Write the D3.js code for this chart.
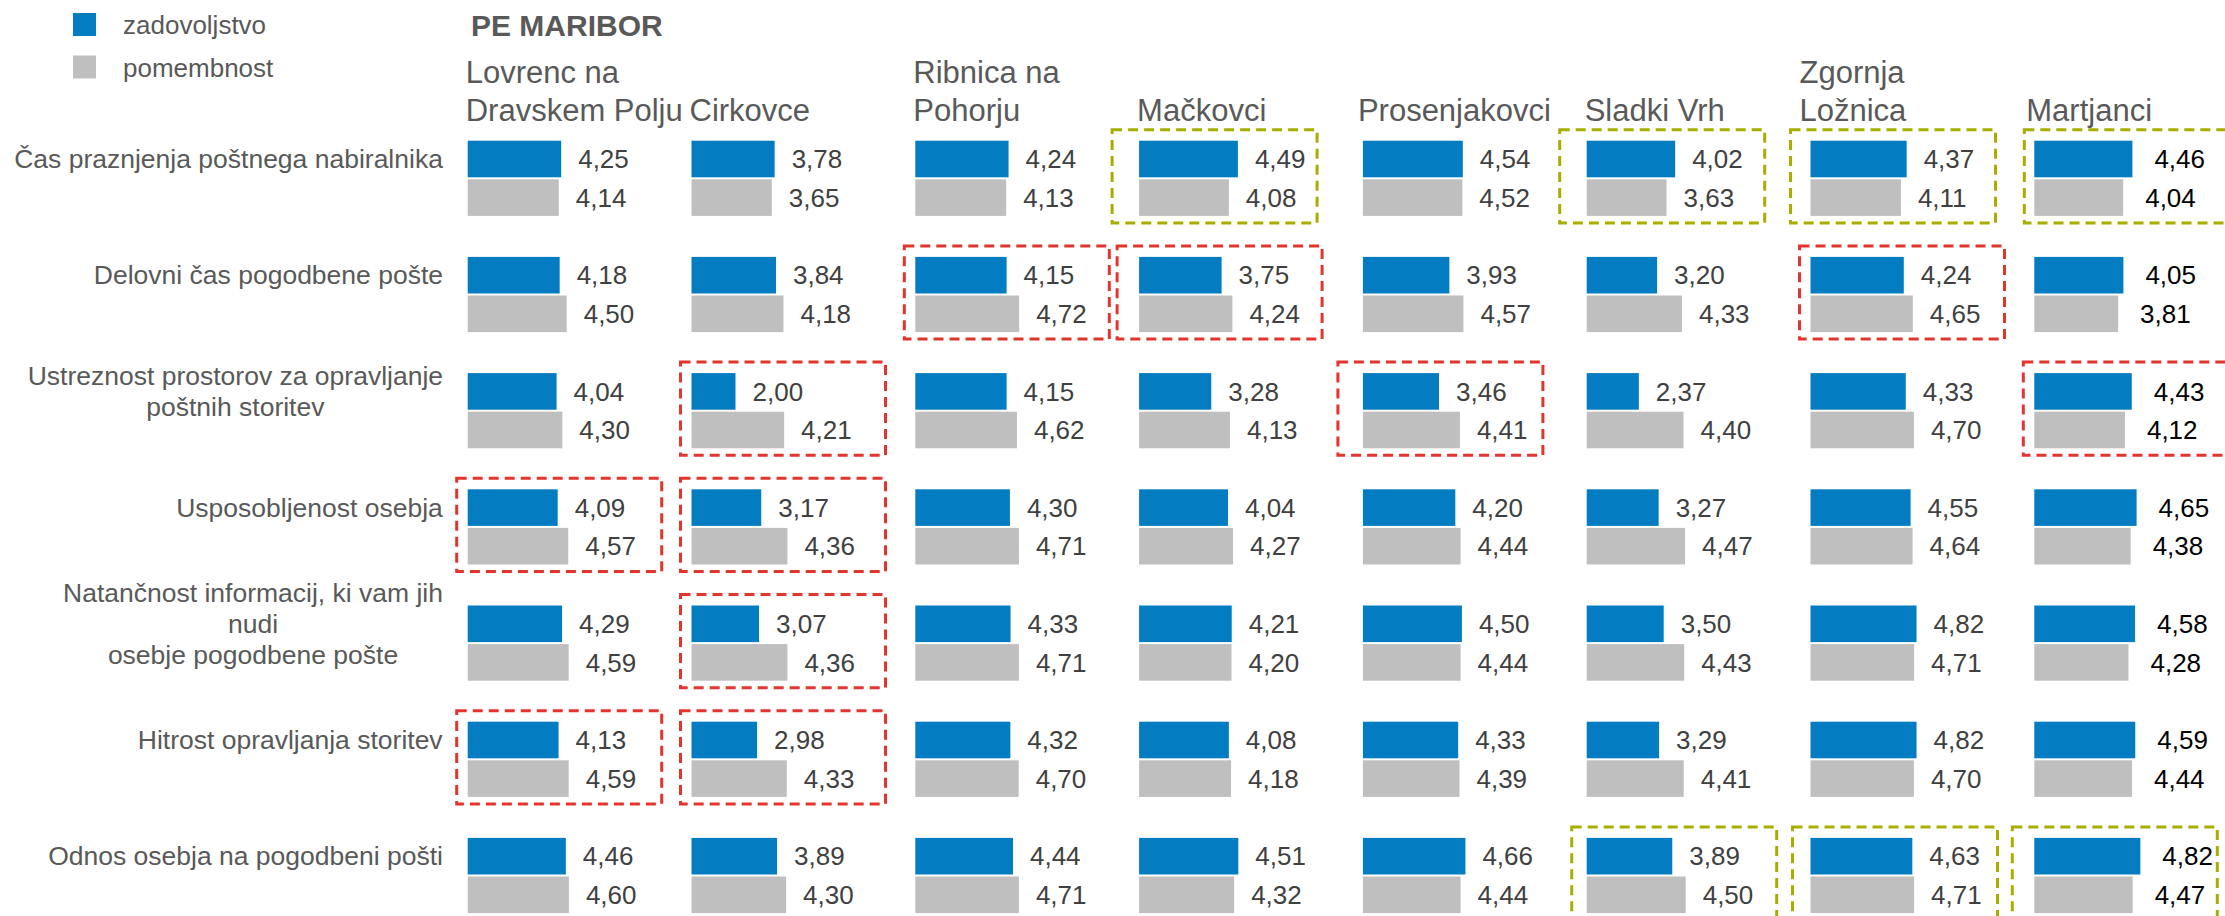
<!DOCTYPE html>
<html lang="sl">
<head>
<meta charset="utf-8"/>
<title>PE MARIBOR</title>
<script src="https://d3js.org/d3.v7.min.js"></script>
<style>
  body { margin: 0; padding: 0; background: #fff; width: 2225px; height: 916px; overflow: hidden; }
  svg text { font-family: "Liberation Sans", Arial, sans-serif; }
</style>
</head>
<body>
<div id="chart"></div>
<script>
// pošte (stolpci)
const locations = ["Lovrenc na\nDravskem Polju", "Cirkovce", "Ribnica na\nPohorju", "Mačkovci",
  "Prosenjakovci", "Sladki Vrh", "Zgornja\nLožnica", "Martjanci"];

// kriteriji (vrstice)
const criteria = ["Čas praznjenja poštnega nabiralnika", "Delovni čas pogodbene pošte",
  "Ustreznost prostorov za opravljanje\npoštnih storitev", "Usposobljenost osebja",
  "Natančnost informacij, ki vam jih\nnudi\nosebje pogodbene pošte",
  "Hitrost opravljanja storitev", "Odnos osebja na pogodbeni pošti"];

const seriesNames = ["zadovoljstvo", "pomembnost"];

// zadovoljstvo: vrstica = kriterij, stolpec = pošta
const satisfaction = [
  [4.25, 3.78, 4.24, 4.49, 4.54, 4.02, 4.37, 4.46],
  [4.18, 3.84, 4.15, 3.75, 3.93, 3.20, 4.24, 4.05],
  [4.04, 2.00, 4.15, 3.28, 3.46, 2.37, 4.33, 4.43],
  [4.09, 3.17, 4.30, 4.04, 4.20, 3.27, 4.55, 4.65],
  [4.29, 3.07, 4.33, 4.21, 4.50, 3.50, 4.82, 4.58],
  [4.13, 2.98, 4.32, 4.08, 4.33, 3.29, 4.82, 4.59],
  [4.46, 3.89, 4.44, 4.51, 4.66, 3.89, 4.63, 4.82]
];

// pomembnost
const importance = [
  [4.14, 3.65, 4.13, 4.08, 4.52, 3.63, 4.11, 4.04],
  [4.50, 4.18, 4.72, 4.24, 4.57, 4.33, 4.65, 3.81],
  [4.30, 4.21, 4.62, 4.13, 4.41, 4.40, 4.70, 4.12],
  [4.57, 4.36, 4.71, 4.27, 4.44, 4.47, 4.64, 4.38],
  [4.59, 4.36, 4.71, 4.20, 4.44, 4.43, 4.71, 4.28],
  [4.59, 4.33, 4.70, 4.18, 4.39, 4.41, 4.70, 4.44],
  [4.60, 4.30, 4.71, 4.32, 4.44, 4.50, 4.71, 4.47]
];

// označene celice [kriterij, pošta]
const redCells = [[1, 2], [1, 3], [1, 6], [2, 1], [2, 4], [2, 7], [3, 0], [3, 1], [4, 1], [5, 0], [5, 1]];
const greenCells = [[0, 3], [0, 5], [0, 6], [0, 7], [6, 5], [6, 6], [6, 7]];

// ---- layout ----
const W = 2225, H = 916;
const colors = { sat: "#037CC2", imp: "#BFBFBF", text: "#595959", value: "#404040", red: "#E3342F", green: "#A7AE00" };
const barH = 36.6, barGap = 2;

const svg = d3.select("#chart").append("svg")
  .attr("width", W).attr("height", H);

const col = d3.scaleBand().domain(d3.range(locations.length)).range([467.7, 467.7 + 223.8 * locations.length]);
const row = d3.scaleBand().domain(d3.range(criteria.length)).range([140.7, 140.7 + 116.2 * criteria.length]);
const x = d3.scaleLinear().domain([0, 5]).range([0, 110]);

// legend
const legend = svg.append("g");
seriesNames.forEach((s, i) => {
  legend.append("rect").attr("x", 73).attr("y", 13 + i * 42.5).attr("width", 23).attr("height", 23)
    .attr("fill", i === 0 ? colors.sat : colors.imp);
  legend.append("text").attr("x", 123).attr("y", 25 + i * 43).attr("dy", "0.35em")
    .attr("font-size", 26).attr("fill", colors.text).text(s);
});

// title
svg.append("text").attr("x", 471).attr("y", 36).attr("font-size", 30).attr("font-weight", "bold")
  .attr("fill", colors.text).text("PE MARIBOR");

// column headers (small per-column nudges as in the original slide)
const headNudge = [0, 0, 0, 0, -3, 0, -9, -6];
locations.forEach((name, j) => {
  const lines = name.split("\n");
  const t = svg.append("text").attr("font-size", 31).attr("fill", colors.text);
  lines.forEach((ln, k) => {
    t.append("tspan").attr("x", col(j) - 2 + headNudge[j])
      .attr("y", 120.7 - (lines.length - 1 - k) * 37.4).text(ln);
  });
});

// row labels (centred lines, block right-aligned)
criteria.forEach((name, i) => {
  const lines = name.split("\n");
  const cy = row(i) + barH / 2;
  const g = svg.append("g");
  const t = g.append("text").attr("font-size", 26.5).attr("fill", colors.text).attr("text-anchor", "middle");
  lines.forEach((ln, k) => {
    t.append("tspan").attr("x", 0).attr("y", cy + (k - (lines.length - 1) / 2) * 30.7).attr("dy", "0.35em").text(ln);
  });
  const w = t.node().getBBox().width;
  g.attr("transform", `translate(${443 - w / 2},0)`);
});

// bars + value labels
const fmt = v => v.toFixed(2).replace(".", ",");
const cells = [];
criteria.forEach((c, i) => locations.forEach((l, j) => {
  cells.push({ i, j, s: 0, v: satisfaction[i][j] });
  cells.push({ i, j, s: 1, v: importance[i][j] });
}));

const barY = d => row(d.i) + d.s * (barH + barGap);
const lastCol = locations.length - 1;

svg.append("g").selectAll("rect").data(cells).join("rect")
  .attr("x", d => col(d.j))
  .attr("y", barY)
  .attr("width", d => x(d.v))
  .attr("height", barH)
  .attr("fill", d => d.s === 0 ? colors.sat : colors.imp);

svg.append("g").selectAll("text").data(cells).join("text")
  .attr("x", d => col(d.j) + x(d.v) + (d.j === lastCol ? 22 : 17))
  .attr("y", d => barY(d) + barH / 2)
  .attr("dy", "0.35em")
  .attr("font-size", 26)
  .attr("fill", d => d.j === lastCol ? "#000" : colors.value)
  .text(d => fmt(d.v));

// dashed highlight boxes
const boxPad = { "0-3": 27, "0-5": 27, "0-6": 20, "0-7": 10, "6-5": 15, "6-6": 18, "6-7": 22, "1-3": 22, "2-4": 25 };
function boxes(list, color) {
  svg.append("g").selectAll("rect").data(list).join("rect")
    .attr("x", d => col(d[1]) - (boxPad[d[0] + "-" + d[1]] || 11))
    .attr("y", d => row(d[0]) - 11)
    .attr("width", 205)
    .attr("height", 2 * barH + barGap + 18)
    .attr("fill", "none")
    .attr("stroke", color)
    .attr("stroke-width", 3)
    .attr("stroke-dasharray", "10,6");
}
boxes(redCells, colors.red);
boxes(greenCells, colors.green);
</script>
</body>
</html>
